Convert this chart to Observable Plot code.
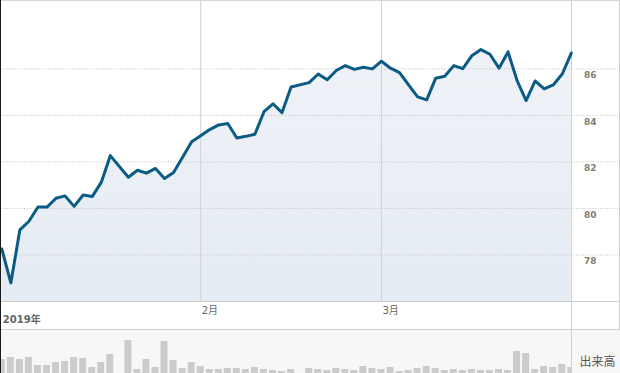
<!DOCTYPE html>
<html>
<head>
<meta charset="utf-8">
<script src="https://cdn.jsdelivr.net/npm/d3@7"></script>
<script src="https://cdn.jsdelivr.net/npm/@observablehq/plot@0.6"></script>
<style>
  html, body { margin: 0; padding: 0; background: #fff; }
  #chart { width: 620px; height: 373px; position: relative; overflow: hidden; }
  #chart svg { display: block; }
</style>
</head>
<body>
<div id="chart"></div>
<script>
const dates = [
  "2019-01-02","2019-01-03","2019-01-04","2019-01-07","2019-01-08","2019-01-09","2019-01-10","2019-01-11",
  "2019-01-14","2019-01-15","2019-01-16","2019-01-17","2019-01-18","2019-01-22","2019-01-23","2019-01-24",
  "2019-01-25","2019-01-28","2019-01-29","2019-01-30","2019-01-31","2019-02-01","2019-02-04","2019-02-05",
  "2019-02-06","2019-02-07","2019-02-08","2019-02-11","2019-02-12","2019-02-13","2019-02-14","2019-02-15",
  "2019-02-19","2019-02-20","2019-02-21","2019-02-22","2019-02-25","2019-02-26","2019-02-27","2019-02-28",
  "2019-03-01","2019-03-04","2019-03-05","2019-03-06","2019-03-07","2019-03-08","2019-03-11","2019-03-12",
  "2019-03-13","2019-03-14","2019-03-15","2019-03-18","2019-03-19","2019-03-20","2019-03-21","2019-03-22",
  "2019-03-25","2019-03-26","2019-03-27","2019-03-28","2019-03-29","2019-04-01"
];
const close = [
  78.26, 76.80, 79.08, 79.45, 80.06, 80.06, 80.44, 80.54,
  80.09, 80.58, 80.51, 81.12, 82.27, 81.34, 81.64, 81.52,
  81.72, 81.29, 81.55, 82.20, 82.87, 83.13, 83.39, 83.59,
  83.65, 83.03, 83.10, 83.19, 84.16, 84.50, 84.12, 85.22,
  85.41, 85.78, 85.53, 85.93, 86.14, 85.98, 86.07, 86.00,
  86.33, 86.03, 85.84, 85.31, 84.80, 84.67, 85.60, 85.68,
  86.14, 86.01, 86.57, 86.83, 86.63, 86.03, 86.73, 85.50,
  84.64, 85.48, 85.14, 85.31, 85.78, 86.68
];
const volume = [
  14, 16, 14, 16, 8, 8, 11, 12,
  16, 15, 6, 11, 19, 33, 4, 14,
  6, 32, 13, 5, 11, 7, 4, 4,
  5, 5, 4, 6, 4, 3, 2, 4,
  5, 4, 3, 5, 4, 3, 7, 5,
  4, 6, 2, 3, 5, 7, 5, 3,
  4, 3, 4, 3, 3, 4, 3, 22,
  20, 4, 7, 6, 9, 6
];
const yTicks = [78, 80, 82, 84, 86];
const monthTicks = ["2019-02-01", "2019-03-01"];
const monthLabels = ["2月", "3月"];
const yearLabel = ["2019年"];
const volumeLabel = ["出来高"];

// weekday index (market calendar without weekends; holidays leave gaps)
const t0 = Date.parse(dates[0] + "T00:00:00Z");
function wdIndex(s) {
  const t1 = Date.parse(s + "T00:00:00Z");
  let n = 0;
  for (let t = t0; t < t1; t += 864e5) {
    const w = new Date(t).getUTCDay();
    if (w !== 0 && w !== 6) n++;
  }
  return n;
}
const data = dates.map((d, k) => ({date: d, i: wdIndex(d), close: close[k], volume: volume[k]}));
const monthIdx = monthTicks.map(wdIndex);
const xDomain = [data[0].i - 0.144, data[data.length - 1].i + 0.022];
const yDomain = [76, 88.94];
const font = "'DejaVu Sans', 'Noto Sans CJK JP', sans-serif";

function gradientDefs() {
  const defs = document.createElementNS("http://www.w3.org/2000/svg", "defs");
  const g = document.createElementNS("http://www.w3.org/2000/svg", "linearGradient");
  g.setAttribute("id", "areaGrad");
  g.setAttribute("x1", "0"); g.setAttribute("x2", "0");
  g.setAttribute("y1", "0"); g.setAttribute("y2", "1");
  [["0%", "#eff3f8"], ["100%", "#e5ebf3"]].forEach(([o, c]) => {
    const s = document.createElementNS("http://www.w3.org/2000/svg", "stop");
    s.setAttribute("offset", o); s.setAttribute("stop-color", c);
    g.appendChild(s);
  });
  defs.appendChild(g);
  return defs;
}

const price = Plot.plot({
  width: 620,
  height: 329,
  marginTop: 0,
  marginBottom: 28,
  marginLeft: 0,
  marginRight: 49,
  style: {fontFamily: font, background: "#fff"},
  x: {type: "linear", domain: xDomain, axis: null},
  y: {domain: yDomain, axis: null},
  marks: [
    gradientDefs,
    Plot.areaY(data, {x: "i", y1: yDomain[0], y2: "close", fill: "url(#areaGrad)"}),
    Plot.ruleY(yTicks, {stroke: "#c6c6c6", strokeDasharray: "1,1.4", insetRight: -47}),
    Plot.ruleX(monthIdx, {stroke: "#d2d2d2"}),
    Plot.ruleY([yDomain[0]], {stroke: "#c9ccd2", insetRight: -49}),
    Plot.ruleY([yDomain[1]], {stroke: "#d6d6d6", insetRight: -49}),
    Plot.ruleX([xDomain[1]], {stroke: "#cfcfcf", insetBottom: -28}),
    Plot.ruleX([xDomain[1]], {stroke: "#cfcfcf", dx: 48, insetBottom: -28}),
    Plot.lineY(data, {x: "i", y: "close", stroke: "#0b5b85", strokeWidth: 3, strokeLinejoin: "round", strokeLinecap: "round"}),
    Plot.axisY(yTicks, {
      anchor: "right", label: null, tickSize: 0, tickPadding: 12.5, textAnchor: "start",
      lineAnchor: "bottom", dy: 9.3, fontSize: 9, fontWeight: "bold", color: "#837d6b",
      tickFormat: d => String(d)
    }),
    Plot.axisX(monthIdx, {
      anchor: "bottom", label: null, tickSize: 0, tickPadding: 12, textAnchor: "start", lineAnchor: "bottom",
      dx: 1, fontSize: 10, color: "#666",
      tickFormat: d => monthLabels[monthIdx.indexOf(d)]
    }),
    Plot.text(yearLabel, {
      x: data[0].i, frameAnchor: "bottom", textAnchor: "start", lineAnchor: "bottom",
      dx: 1, dy: 21, fontSize: 10, fontWeight: "bold", fill: "#666", text: d => d
    }),
    Plot.ruleX([xDomain[0]], {stroke: "#1a1a1a", insetBottom: -28})
  ]
});

const vol = Plot.plot({
  width: 620,
  height: 44,
  marginTop: 0,
  marginBottom: 0,
  marginLeft: 0,
  marginRight: 49,
  style: {fontFamily: font, background: "#f7f7f7"},
  x: {type: "linear", domain: xDomain, axis: null},
  y: {domain: [0, 44], axis: null},
  marks: [
    Plot.rectY(data, {x1: d => d.i - 0.387, x2: d => d.i + 0.387, y: "volume", fill: "#cbcbcb", clip: true}),
    Plot.ruleY([44], {stroke: "#cfcfcf", insetRight: -49}),
    Plot.ruleX([xDomain[1]], {stroke: "#cfcfcf"}),
    Plot.text(volumeLabel, {
      frameAnchor: "bottom-right", textAnchor: "start", lineAnchor: "bottom",
      dx: 8, dy: -8, fontSize: 12, fill: "#555", text: d => d
    }),
    Plot.ruleX([xDomain[0]], {stroke: "#1a1a1a"})
  ]
});

const chart = document.getElementById("chart");
chart.appendChild(price);
chart.appendChild(vol);
</script>
</body>
</html>
